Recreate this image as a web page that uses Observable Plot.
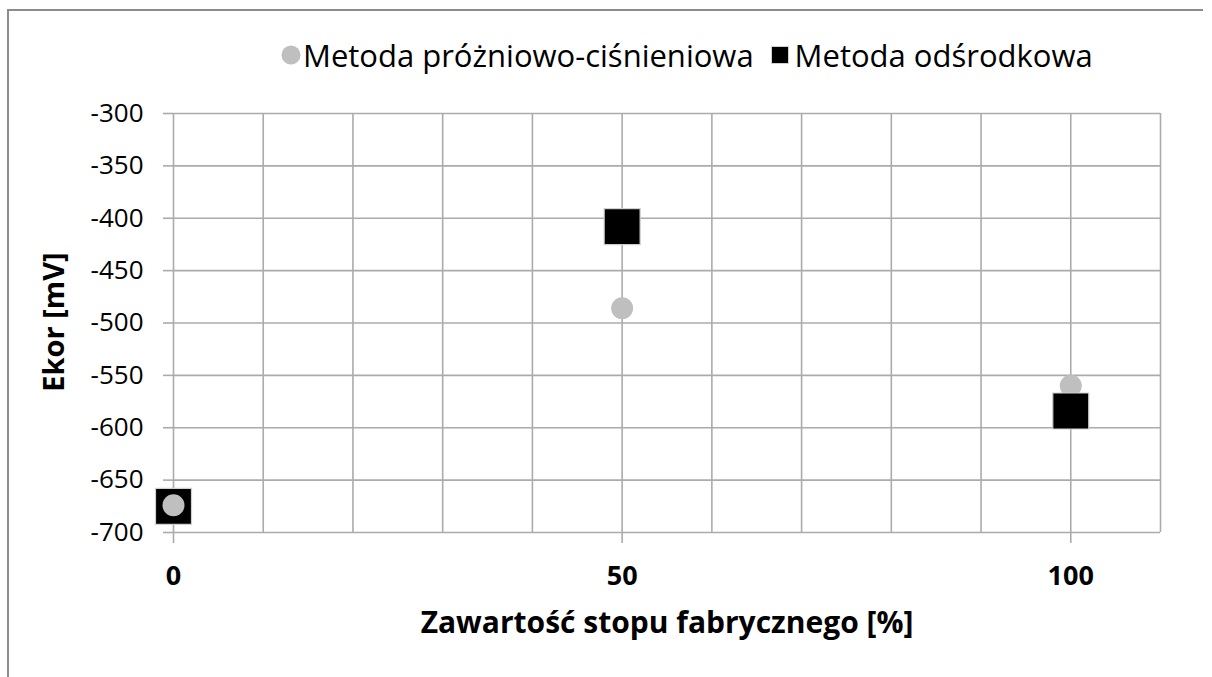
<!DOCTYPE html>
<html>
<head>
<meta charset="utf-8">
<script src="https://cdn.jsdelivr.net/npm/d3@7"></script>
<script src="https://cdn.jsdelivr.net/npm/@observablehq/plot@0.6"></script>
<style>
  html, body { margin: 0; padding: 0; background: #fff; }
  #wrap { position: relative; width: 1212px; height: 677px; overflow: hidden; font-family: "Open Sans", "Noto Sans", sans-serif; }
  #frame { position: absolute; left: 7px; top: 9px; width: 1196px; height: 700px; border-left: 2px solid #8c8c8c; border-top: 2px solid #8c8c8c; box-sizing: border-box; }
  #legend { position: absolute; left: 0; top: 0; width: 1212px; height: 100px; }
  .li { position: absolute; top: 34px; font-size: 31px; color: #000; white-space: nowrap; line-height: 42px; }
  .sw { position: absolute; }
  #chart { position: absolute; left: 0; top: 100px; }
</style>
</head>
<body>
<div id="wrap">
  <div id="frame"></div>
  <div id="legend"></div>
  <div id="chart"></div>
</div>
<script>
// Data
const content = [0, 50, 100];                       // Zawartość stopu fabrycznego [%]
const vacuumPressure = [-674, -486, -560];          // Metoda próżniowo-ciśnieniowa (Ekor, mV)
const centrifugal = [-675, -408, -584];             // Metoda odśrodkowa (Ekor, mV)
const seriesNames = ["Metoda próżniowo-ciśnieniowa", "Metoda odśrodkowa"];
const yTicks = [-700, -650, -600, -550, -500, -450, -400, -350, -300];
const xTicks = [0, 50, 100];
const xGrid = [0, 10, 20, 30, 40, 50, 60, 70, 80, 90, 100, 110];
const xTitle = "Zawartość stopu fabrycznego [%]";
const yTitle = "Ekor [mV]";

const circles = content.map((x, i) => ({x, y: vacuumPressure[i], s: seriesNames[0]}));
const squares = content.map((x, i) => ({x, y: centrifugal[i], s: seriesNames[1]}));

const grid = "#ababab";
const font = "'Open Sans', 'Noto Sans', sans-serif";

const chart = Plot.plot({
  width: 1212,
  height: 577,
  marginLeft: 173,
  marginRight: 52,
  marginTop: 13,
  marginBottom: 145,
  style: {fontFamily: font, color: "#000", background: "transparent", overflow: "visible"},
  x: {domain: [0, 110]},
  y: {domain: [-700, -300]},
  marks: [
    Plot.gridX(xGrid, {stroke: grid, strokeOpacity: 1, strokeWidth: 1.6}),
    Plot.gridY(yTicks, {stroke: grid, strokeOpacity: 1, strokeWidth: 1.6}),
    Plot.axisY({ticks: yTicks, tickSize: 10, tickPadding: 20, fontSize: 26, stroke: grid, strokeWidth: 1.6, tickFormat: d => String(d), label: null}),
    Plot.axisX({ticks: xTicks, tickSize: 11, tickPadding: 22, fontSize: 27, fontWeight: "bold", stroke: grid, strokeWidth: 1.6, label: null}),
    Plot.text([xTitle], {frameAnchor: "bottom", dy: 100, fontSize: 30, fontWeight: "bold", fill: "#000", x: () => 55, text: d => d}),
    Plot.dot(circles.filter(d => d.x === 100), {x: "x", y: "y", r: 11, fill: "#bfbfbf", symbol: "circle"}),
    Plot.dot(squares, {x: "x", y: "y", r: 20.3, fill: "#000", stroke: "#d0d0d0", strokeWidth: 1.2, symbol: "square"}),
    Plot.dot(circles.filter(d => d.x !== 100), {x: "x", y: "y", r: 11, fill: "#bfbfbf", symbol: "circle"})
  ]
});
document.getElementById("chart").appendChild(chart);

// Y title as rotated text
const svg = d3.select(chart);
svg.append("text")
  .attr("transform", "translate(56, 222) rotate(-90)")
  .attr("text-anchor", "middle")
  .attr("dominant-baseline", "middle")
  .attr("font-family", font)
  .attr("font-size", 29)
  .attr("font-weight", "bold")
  .attr("fill", "#000")
  .text(yTitle);

// Legend
const legend = document.getElementById("legend");
const l1sw = document.createElement("div"); l1sw.className = "sw"; l1sw.style.left = "281px"; l1sw.style.top = "45px";
l1sw.innerHTML = '<svg width="20" height="20"><circle cx="10" cy="10" r="9.5" fill="#bfbfbf"/></svg>';
legend.appendChild(l1sw);
const l1 = document.createElement("div"); l1.className = "li"; l1.style.left = "303px"; l1.textContent = seriesNames[0]; legend.appendChild(l1);
const w1 = l1.getBoundingClientRect().width;
const l2sw = document.createElement("div"); l2sw.className = "sw"; l2sw.style.left = (303 + w1 + 17) + "px"; l2sw.style.top = "46px";
l2sw.innerHTML = '<svg width="18" height="18"><rect x="0.5" y="0.5" width="17" height="17" fill="#000" stroke="#d0d0d0"/></svg>';
legend.appendChild(l2sw);
const l2 = document.createElement("div"); l2.className = "li"; l2.style.left = (303 + w1 + 41) + "px"; l2.textContent = seriesNames[1]; legend.appendChild(l2);
</script>
</body>
</html>
